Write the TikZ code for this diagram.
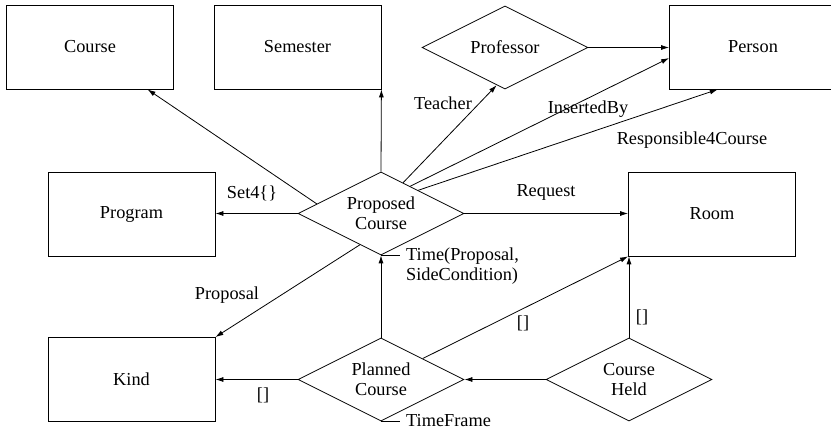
\documentclass[tikz,border=0pt]{standalone}
\usepackage{fontspec}
\setmainfont{Liberation Serif}
\usetikzlibrary{shapes.geometric,arrows.meta,calc}
\begin{document}
\begin{tikzpicture}[x=1pt,y=-1pt,
  every node/.style={font=\fontsize{18.3}{20}\selectfont},
  entity/.style={draw, rectangle, minimum width=167pt, minimum height=84pt, inner sep=0pt, line width=0.8pt},
  relation/.style={draw, diamond, aspect=2, minimum width=166pt, minimum height=83pt, inner sep=0pt, align=center, line width=0.8pt},
  lbl/.style={inner sep=0pt},
  link/.style={line width=0.8pt, -{Latex[length=8pt,width=5pt]}},
  plain/.style={line width=0.8pt}]
\clip (0,0) rectangle (831,433);

% entities and relationships
\node[entity] (course) at (90,47) {Course};
\node[entity] (semester) at (297.5,47) {Semester};
\node[relation] (professor) at (505,47.5) {Professor};
\node[entity] (person) at (753,47) {Person};
\node[entity] (program) at (131.5,214) {Program};
\node[relation] (proposed) at (381,213.5) {Proposed\\Course};
\node[entity] (room) at (712,214) {Room};
\node[entity] (kind) at (131.5,379.5) {Kind};
\node[relation] (planned) at (381,379.5) {Planned\\Course};
\node[relation] (held) at (629,379.5) {Course\\Held};

% attachment points on the borders
\coordinate (pcCourse) at ($(proposed.west)!0.23!(proposed.north)$);
\coordinate (pcTeacher) at ($(proposed.north)!0.265!(proposed.east)$);
\coordinate (pcInserted) at ($(proposed.north)!0.35!(proposed.east)$);
\coordinate (pcResp) at ($(proposed.north)!0.446!(proposed.east)$);
\coordinate (pcKind) at ($(proposed.west)!0.747!(proposed.south)$);
\coordinate (profIn) at ($(professor.west)!0.9!(professor.south)$);
\coordinate (personIns) at ($(person.west)!0.26!(person.south west)$);
\coordinate (personResp) at ($(person.south west)!0.58!(person.south)$);
\coordinate (courseIn) at ($(course.south west)!0.843!(course.south east)$);
\coordinate (plRoom) at ($(planned.north)!0.5!(planned.east)$);

% connectors
\draw[link] (pcCourse) -- (courseIn);
\draw[link] (proposed.north) -- (semester.south east);
\draw[link] (pcTeacher) -- (profIn);
\draw[link] (pcInserted) -- (personIns);
\draw[link] (pcResp) -- (personResp);
\draw[link] (professor.east) -- (professor.east -| person.west);
\draw[link] (proposed.west) -- (proposed.west -| program.east);
\draw[link] (proposed.east) -- (proposed.east -| room.west);
\draw[link] (pcKind) -- (kind.north east);
\draw[link] (planned.north) -- (proposed.south);
\draw[link] (planned.west) -- (planned.west -| kind.east);
\draw[link] (held.west) -- (planned.east);
\draw[link] (held.north) -- (held.north |- room.south);
\draw[link] (plRoom) -- (room.south west);

% attribute ticks
\draw[plain] (proposed.south) -- ++(19,0) coordinate (timeTick);
\draw[plain] (planned.south) -- ++(19,0) coordinate (frameTick);

% labels
\node[lbl, anchor=west, align=left] (timeLbl) at (406,266) {Time(Proposal,\\SideCondition)};
\node[lbl, anchor=west] (frameLbl) at (406,421) {TimeFrame};
\node[lbl] (teacherLbl) at (443,103) {Teacher};
\node[lbl] (insertedLbl) at (588,109) {InsertedBy};
\node[lbl] (respLbl) at (692,140) {Responsible4Course};
\node[lbl] (setLbl) at (252,193) {Set4\{\}};
\node[lbl] (requestLbl) at (546,192) {Request};
\node[lbl] (proposalLbl) at (227,295) {Proposal};
\node[lbl] (kindLbl) at (263,395) {[]};
\node[lbl] (plRoomLbl) at (523,323) {[]};
\node[lbl] (heldLbl) at (642,317) {[]};
\end{tikzpicture}
\end{document}
